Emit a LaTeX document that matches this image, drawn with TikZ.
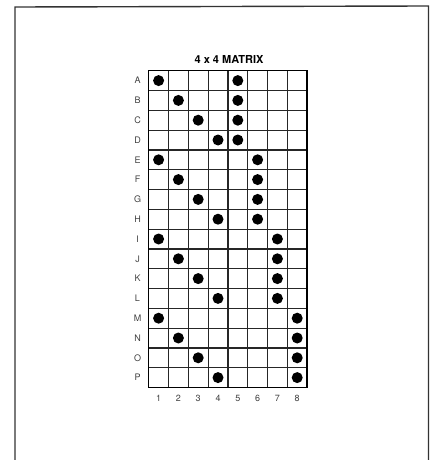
\documentclass[tikz,border=0pt]{standalone}
\usepackage{fontspec}
\setmainfont{TeX Gyre Heros}
\begin{document}
\begin{tikzpicture}[x=1pt,y=-1pt,
  gridline/.style={line width=1.2pt, black!85},
  frameline/.style={line width=1.4pt, black!80},
  dot/.style={circle, fill=black, inner sep=0pt, minimum size=11pt},
  lbl/.style={font=\fontsize{9}{10}\selectfont, text=black!75, inner sep=0pt},
  ttl/.style={font=\fontsize{11}{12}\selectfont\bfseries, inner sep=0pt}]
\useasboundingbox (0,0) rectangle (431,460);
\def\gx{148.7}\def\gy{70.7}\def\cs{19.8}
% outer frame (open at bottom)
\draw[frameline] (15,460) -- (15,7) -- (428.5,6) -- (428.5,460);
% title
\node[ttl] (title) at (229,59) {4 x 4 MATRIX};
% grid
\foreach \i in {0,...,8}
  \draw[gridline] ({\gx+\i*\cs},\gy) -- ({\gx+\i*\cs},{\gy+16*\cs});
\foreach \j in {0,...,16}
  \draw[gridline] (\gx,{\gy+\j*\cs}) -- ({\gx+8*\cs},{\gy+\j*\cs});
\draw[line width=1.5pt] (\gx,\gy) rectangle ({\gx+8*\cs},{\gy+16*\cs});
% row labels
\foreach \r [count=\k from 0] in {A,B,C,D,E,F,G,H,I,J,K,L,M,N,O,P}
  \node[lbl] (row\r) at (137.5,{\gy+(\k+0.5)*\cs}) {\r};
% column labels
\foreach \c in {1,...,8}
  \node[lbl] (col\c) at ({\gx+(\c-0.5)*\cs},398.5) {\c};
% dots
\foreach \g in {0,...,3}{
  \foreach \d in {0,...,3}{
    \pgfmathtruncatemacro{\row}{\g*4+\d}
    \node[dot] (d\g\d) at ({\gx+(\d+0.5)*\cs},{\gy+(\row+0.5)*\cs}) {};
    \node[dot] (e\g\d) at ({\gx+(\g+4.5)*\cs},{\gy+(\row+0.5)*\cs}) {};
  }
}
\end{tikzpicture}
\end{document}
